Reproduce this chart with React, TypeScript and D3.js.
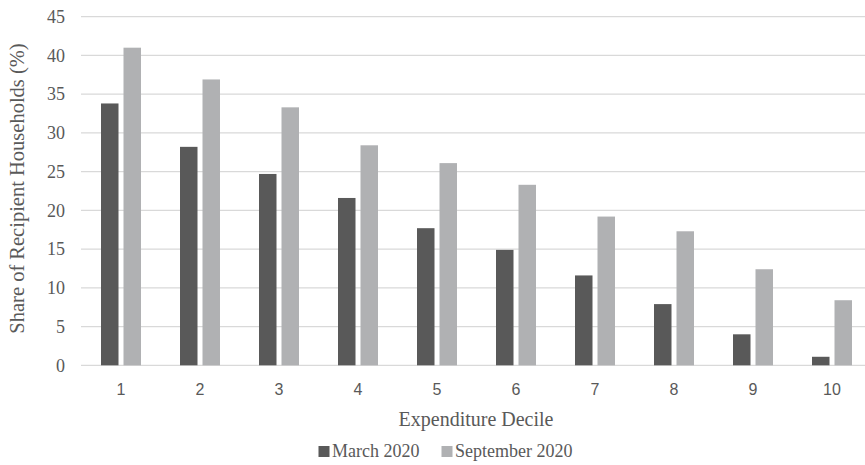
import React from "react";
import * as d3 from "d3";

const deciles = ["1", "2", "3", "4", "5", "6", "7", "8", "9", "10"];
const seriesNames = ["March 2020", "September 2020"];
const march2020 = [33.8, 28.2, 24.7, 21.6, 17.7, 14.9, 11.6, 7.9, 4.0, 1.1];
const sept2020 = [41.0, 36.9, 33.3, 28.4, 26.1, 23.3, 19.2, 17.3, 12.4, 8.4];
const yTicks = [0, 5, 10, 15, 20, 25, 30, 35, 40, 45];
const colors = ["#595959", "#b0b1b3"];

const W = 865;
const H = 465;

export default function App() {
  const x0 = d3
    .scaleBand<string>()
    .domain(deciles)
    .range([81.5, 871.5])
    .paddingInner(39 / 79)
    .paddingOuter(39 / 158);
  const x1 = d3
    .scaleBand<string>()
    .domain(seriesNames)
    .range([0, x0.bandwidth()])
    .paddingInner(5 / 22.5)
    .paddingOuter(0);
  const y = d3.scaleLinear().domain([0, 45]).range([365.3, 16.7]);
  const values = [march2020, sept2020];
  const serif = "'Liberation Serif', 'Times New Roman', serif";
  const sans = "'Liberation Sans', Arial, sans-serif";
  const textColor = "#595959";

  return (
    <svg
      width={W}
      height={H}
      style={{ position: "absolute", left: 0, top: 0, background: "#fff" }}
    >
      {yTicks.map((t) => (
        <g key={t}>
          <line
            x1={81}
            x2={865}
            y1={y(t)}
            y2={y(t)}
            stroke="#d9d9d9"
            strokeWidth={1.3}
          />
          <text
            x={65}
            y={y(t)}
            dy="0.35em"
            textAnchor="end"
            fontFamily={serif}
            fontSize={18}
            fill={textColor}
          >
            {t}
          </text>
        </g>
      ))}
      {deciles.map((d, i) => (
        <g key={d} transform={`translate(${x0(d)},0)`}>
          {seriesNames.map((s, j) => (
            <rect
              key={s}
              x={x1(s)}
              y={y(values[j][i])}
              width={x1.bandwidth()}
              height={y(0) - y(values[j][i])}
              fill={colors[j]}
            />
          ))}
          <text
            x={x0.bandwidth() / 2}
            y={395}
            textAnchor="middle"
            fontFamily={sans}
            fontSize={16}
            fill={textColor}
          >
            {d}
          </text>
        </g>
      ))}
      <text
        x={476}
        y={426}
        textAnchor="middle"
        fontFamily={serif}
        fontSize={20}
        fill={textColor}
      >
        Expenditure Decile
      </text>
      <text
        transform={`translate(24,188.5) rotate(-90)`}
        textAnchor="middle"
        fontFamily={serif}
        fontSize={20.5}
        fill={textColor}
      >
        Share of Recipient Households (%)
      </text>
      <g>
        <rect x={318.5} y={446} width={11} height={11} fill={colors[0]} />
        <text x={332} y={457} fontFamily={serif} fontSize={18} fill={textColor}>
          {seriesNames[0]}
        </text>
        <rect x={441.5} y={446} width={11} height={11} fill={colors[1]} />
        <text x={455} y={457} fontFamily={serif} fontSize={18} fill={textColor}>
          {seriesNames[1]}
        </text>
      </g>
    </svg>
  );
}
